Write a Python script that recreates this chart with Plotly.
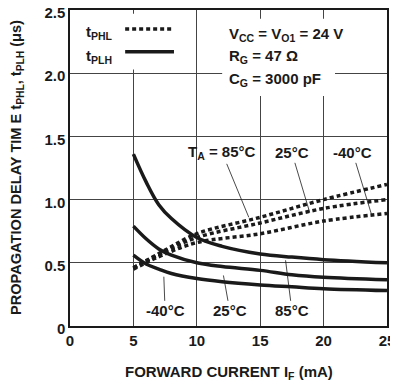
import plotly.graph_objects as go

# tPLH (solid) curves
i_plh = [5, 6, 7, 8, 10, 12, 15, 17.5, 20, 25]
plh_85 = [1.36, 1.14, 0.96, 0.85, 0.70, 0.63, 0.57, 0.545, 0.525, 0.50]
plh_25 = [0.79, 0.69, 0.61, 0.56, 0.50, 0.47, 0.44, 0.405, 0.385, 0.365]
plh_m40 = [0.56, 0.49, 0.45, 0.415, 0.375, 0.35, 0.325, 0.31, 0.295, 0.28]

# tPHL (dotted) curves
i_phl = [5, 7.5, 10, 15, 20, 25]
phl_85 = [0.46, 0.60, 0.73, 0.86, 1.00, 1.12]
phl_25 = [0.46, 0.59, 0.70, 0.815, 0.93, 1.00]
phl_m40 = [0.45, 0.57, 0.66, 0.73, 0.83, 0.89]

x_ticks = [0, 5, 10, 15, 20, 25]
y_ticks = [0, 0.5, 1.0, 1.5, 2.0, 2.5]
y_tick_text = ["0", "0.5", "1.0", "1.5", "2.0", "2.5"]

FONT = "Liberation Sans, Arial, Helvetica, sans-serif"
INK = "#1a1a1a"
BOLD = dict(family=FONT, size=15, color=INK, weight="bold")

fig = go.Figure()

for ys in [plh_85, plh_25, plh_m40]:
    fig.add_trace(go.Scatter(x=i_plh, y=ys, mode="lines",
                             line=dict(color=INK, width=3.5, shape="spline"),
                             showlegend=False, hoverinfo="skip"))
for ys in [phl_85, phl_25, phl_m40]:
    fig.add_trace(go.Scatter(x=i_phl, y=ys, mode="lines",
                             line=dict(color=INK, width=3.5, dash="4px,3px", shape="spline"),
                             showlegend=False, hoverinfo="skip"))

# white patches that break the grid behind the legend and the conditions text
fig.add_shape(type="rect", x0=0.05, x1=9.8, y0=2.03, y1=2.47, layer="between",
              line=dict(width=0), fillcolor="white")
fig.add_shape(type="rect", x0=12.0, x1=20.9, y0=1.82, y1=2.43, layer="between",
              line=dict(width=0), fillcolor="white")

# legend keys (text first, line sample after it, as in the datasheet)
fig.add_annotation(x=1.1, y=2.32, text="t<sub>PHL</sub>", showarrow=False, xanchor="left")
fig.add_annotation(x=1.1, y=2.13, text="t<sub>PLH</sub>", showarrow=False, xanchor="left")
fig.add_shape(type="line", x0=4.35, x1=8.2, y0=2.35, y1=2.35,
              line=dict(color=INK, width=3.5, dash="4px,3px"))
fig.add_shape(type="line", x0=4.35, x1=8.2, y0=2.17, y1=2.17,
              line=dict(color=INK, width=3.5))

# test conditions
conds = ["V<sub>CC</sub> = V<sub>O1</sub> = 24 V", "R<sub>G</sub> = 47 \u03a9", "C<sub>G</sub> = 3000 pF"]
for k, c in enumerate(conds):
    fig.add_annotation(x=12.4, y=2.31 - 0.18 * k, text=c, showarrow=False, xanchor="left")

# temperature labels with leader lines
top_labels = [("T<sub>A</sub> = 85\u00b0C", 12.0, 14.1, 0.86),
              ("25\u00b0C", 17.5, 18.9, 0.90),
              ("-40\u00b0C", 22.3, 23.8, 0.875)]
for txt, lx, px, py in top_labels:
    fig.add_annotation(x=px, y=py, ax=lx, ay=1.37, axref="x", ayref="y", text=txt,
                       showarrow=True, arrowhead=0, arrowwidth=0.8, arrowcolor=INK)
bottom_labels = [("-40\u00b0C", 7.5, 7.4, 0.39),
                 ("25\u00b0C", 12.6, 12.1, 0.40),
                 ("85\u00b0C", 17.5, 17.0, 0.52)]
for txt, lx, px, py in bottom_labels:
    fig.add_annotation(x=px, y=py, ax=lx, ay=0.12, axref="x", ayref="y", text=txt,
                       showarrow=True, arrowhead=0, arrowwidth=0.8, arrowcolor=INK)

# axis titles, placed by hand like the datasheet
fig.add_annotation(xref="paper", yref="paper", x=0.5, y=-0.146, yanchor="middle",
                   text="FORWARD CURRENT I<sub>F</sub> (mA)", showarrow=False)
fig.add_annotation(xref="paper", yref="paper", x=-0.167, y=0.50, xanchor="center",
                   textangle=-90,
                   text="PROPAGATION DELAY TIM E t<sub>PHL</sub>, t<sub>PLH</sub> (\u03bcs)",
                   showarrow=False)

fig.update_annotations(font=BOLD)
fig.layout.annotations[-1].font.size = 14.6

axis_style = dict(showline=True, linecolor=INK, linewidth=1.5, mirror=True,
                  showgrid=True, gridcolor="#444444", gridwidth=1, zeroline=False,
                  ticks="", tickfont=BOLD, automargin=False, ticklabeloverflow="allow")
fig.update_xaxes(range=[0, 25], tickvals=x_ticks, **axis_style)
fig.update_yaxes(range=[0, 2.5], tickvals=y_ticks, ticktext=y_tick_text,
                 ticklabelshift=3, **axis_style)

# the page body adds an 8px margin all round; keep the figure small enough
# that the page does not scroll, and place the plot box where the datasheet has it
fig.update_layout(width=390, height=376, margin=dict(l=62, r=11, t=2, b=58),
                  plot_bgcolor="white", paper_bgcolor="white",
                  font=dict(family=FONT, color=INK))

fig.write_html("out.html")
